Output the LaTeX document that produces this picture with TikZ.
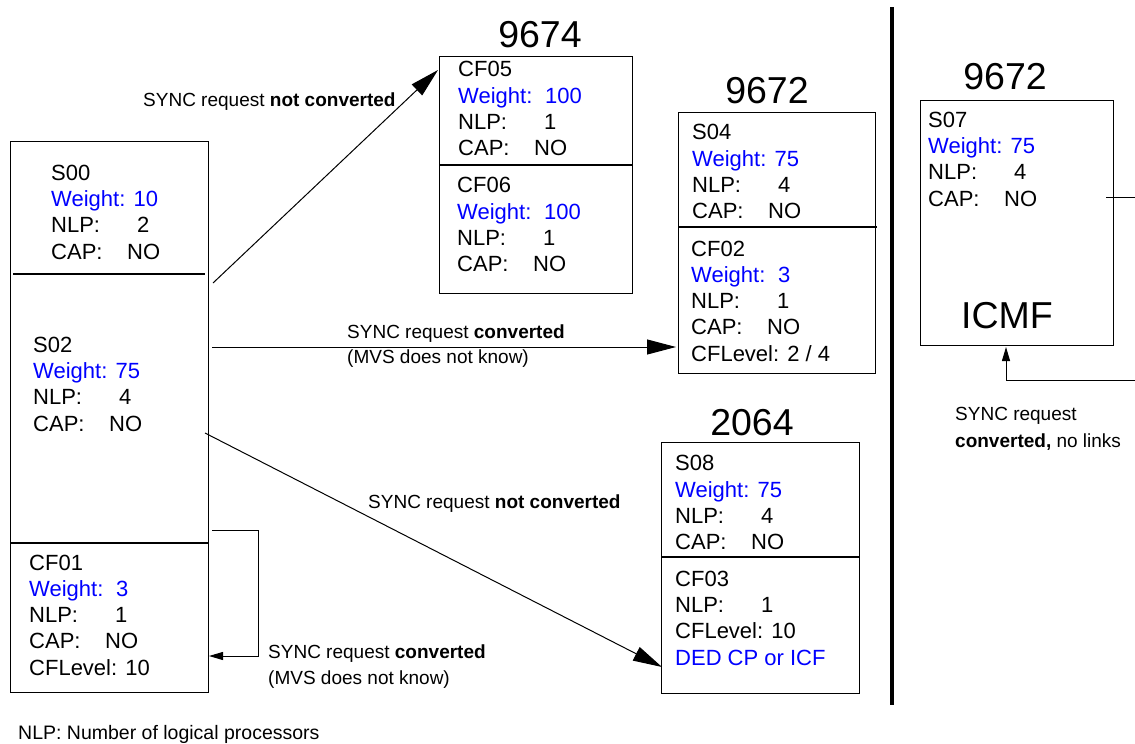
\documentclass[tikz,border=0pt]{standalone}
\usepackage{fontspec}
\setmainfont{Liberation Sans}
\usetikzlibrary{arrows.meta}
\definecolor{wtblue}{RGB}{0,0,255}
\newcommand{\wt}[1]{\textcolor{wtblue}{#1}}
\newcommand{\wtt}[1]{\textcolor{wtblue}{\makebox[87pt][l]{Weight:}#1}}
\newcommand{\nlp}[1]{\makebox[86pt][l]{NLP:}#1}
\newcommand{\capno}{\makebox[76pt][l]{CAP:}NO}
\tikzset{
  cfbox/.style={draw, line width=1.3pt, inner sep=0pt, anchor=north west},
  lpar/.style={anchor=base west, align=left, inner sep=0pt, font=\fontsize{22}{26.2}\selectfont},
  cec/.style={anchor=base, inner sep=0pt, font=\fontsize{37.5}{40}\selectfont},
  lbl/.style={anchor=base west, align=left, inner sep=0pt, font=\fontsize{19}{25.5}\selectfont},
  sep/.style={line width=1.3pt},
  big/.style={line width=1pt, -{Triangle[length=29pt,width=15pt]}},
  small/.style={line width=1pt, -{Triangle[length=14pt,width=8pt]}},
}
\begin{document}
\begin{tikzpicture}[x=1pt, y=-1pt]
      \useasboundingbox (0,0) rectangle (1135,744);
      \node[cfbox, minimum width=198pt, minimum height=551pt] (cecL) at (10,141) {};
      \node[cfbox, minimum width=193pt, minimum height=237pt] (cec9674) at (439,56) {};
      \node[cfbox, minimum width=197pt, minimum height=261pt] (cec9672) at (678,112) {};
      \node[cfbox, minimum width=198pt, minimum height=251pt] (cec2064) at (661,442) {};
      \node[cfbox, minimum width=193pt, minimum height=245pt] (cecR) at (920,100) {};
      \draw[sep] (13,274) -- (205,274);
      \draw[sep] (10,543) -- (208,543);
      \draw[sep] (439,165) -- (632,165);
      \draw[sep] (678,227) -- (877,227);
      \draw[sep] (661,557) -- (860,557);
      \draw[line width=4pt] (892,7) -- (892,705);
      \node[cec] (t9674) at (540,47) {9674};
      \node[cec] (t9672) at (767,103) {9672};
      \node[cec] (t2064) at (752,435) {2064};
      \node[cec] (t9672r) at (1005,89) {9672};
      \node[cec] (ticmf) at (1007,328) {ICMF};
      % base anchor of a multi-line node = baseline of its last line
      \node[lpar] (s00) at (51,259) {S00\\\wt{Weight: 10}\\\nlp{2}\\\capno};
      \node[lpar] (s02) at (33,431) {S02\\\wt{Weight: 75}\\\nlp{4}\\\capno};
      \node[lpar] (cf01) at (29,675) {CF01\\\wtt{3}\\\nlp{1}\\\capno\\CFLevel: 10};
      \node[lpar] (cf05) at (458,155.5) {CF05\\\wtt{100}\\\nlp{1}\\\capno};
      \node[lpar] (cf06) at (457,271.5) {CF06\\\wtt{100}\\\nlp{1}\\\capno};
      \node[lpar] (s04) at (692,218.5) {S04\\\wt{Weight: 75}\\\nlp{4}\\\capno};
      \node[lpar] (cf02) at (691,361) {CF02\\\wtt{3}\\\nlp{1}\\\capno\\CFLevel: 2 / 4};
      \node[lpar] (s08) at (675,549.5) {S08\\\wt{Weight: 75}\\\nlp{4}\\\capno};
      \node[lpar] (cf03) at (675,665) {CF03\\\nlp{1}\\CFLevel: 10\\\wt{DED CP or ICF}};
      \node[lpar] (s07) at (928,206) {S07\\\wt{Weight: 75}\\\nlp{4}\\\capno};
      \node[lbl] (syncA) at (143,106) {SYNC request \textbf{not converted}};
      \node[lbl] (syncB) at (347,363.5) {SYNC request \textbf{converted}\\(MVS does not know)};
      \node[lbl] (syncC) at (368,508) {SYNC request \textbf{not converted}};
      \node[lbl] (syncD) at (268,684) {SYNC request \textbf{converted}\\(MVS does not know)};
      \node[lbl, font=\fontsize{19}{27}\selectfont] (syncE) at (955,447) {SYNC request\\\textbf{converted,} no links};
      \node[lbl, font=\fontsize{19.5}{24}\selectfont] (note) at (18,739) {NLP: Number of logical processors};
      \coordinate (s00out) at (213,283);
      \coordinate (cf05in) at (438,70);
      \coordinate (s02out) at (212,347);
      \coordinate (cf02in) at (676,347);
      \coordinate (s02dn) at (205,433);
      \coordinate (cf03in) at (662,667);
      \coordinate (cf01out) at (212,530);
      \coordinate (loopc) at (258,656);
      \coordinate (cf01in) at (209,656);
      \coordinate (s07out) at (1106,197);
      \coordinate (s07end) at (1135,197);
      \coordinate (icmfret) at (1135,380);
      \coordinate (icmfin) at (1006,347);
      \draw[big] (s00out) -- (cf05in);
      \draw[big] (s02out) -- (cf02in);
      \draw[big] (s02dn) -- (cf03in);
      \draw[small] (cf01out) -| (loopc) -- (cf01in);
      \draw[line width=1pt] (s07out) -- (s07end);
      \draw[small] (icmfret) -| (icmfin);
    \end{tikzpicture}
\end{document}
